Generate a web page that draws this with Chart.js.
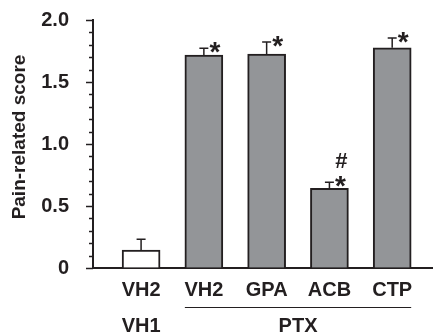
<!DOCTYPE html>
<html>
<head>
<meta charset="utf-8">
<script src="https://cdn.jsdelivr.net/npm/chart.js@4.4.1/dist/chart.umd.min.js"></script>
<style>
  html, body { margin: 0; padding: 0; background: #fff; }
  #wrap { width: 433px; height: 333px; position: relative; }
</style>
</head>
<body>
<div id="wrap"><canvas id="chart"></canvas></div>
<script>
// data
const categories = ['VH2', 'VH2', 'GPA', 'ACB', 'CTP'];
const scores = [0.145, 1.718, 1.726, 0.643, 1.776];
const errors = [0.086, 0.054, 0.097, 0.048, 0.078];
const stars = ['', '*', '*', '*', '*'];
const hashes = ['', '', '', '#', ''];
const groups = ['VH1', 'PTX'];
const groupFrom = [1, 2];
const groupTo = [1, 5];

const ink = '#231f20';
const font = 'Liberation Sans, Arial, Helvetica, sans-serif';
const barWidth = 38;

const positions = categories.map((c, i) => i + 1);

// error bars, significance marks, group labels, y title
const extras = {
    id: 'extras',
    afterDatasetsDraw(chart) {
        const ctx = chart.ctx;
        const x = chart.scales.x, y = chart.scales.y;
        ctx.save();
        ctx.strokeStyle = ink;
        ctx.fillStyle = ink;
        ctx.lineWidth = 1.5;
        scores.forEach((v, i) => {
            const cx = x.getPixelForValue(positions[i]);
            const top = y.getPixelForValue(v);
            const end = y.getPixelForValue(v + errors[i]);
            ctx.beginPath();
            ctx.moveTo(cx, top);
            ctx.lineTo(cx, end);
            ctx.moveTo(cx - 4.5, end);
            ctx.lineTo(cx + 4.5, end);
            ctx.stroke();

            ctx.textAlign = 'center';
            ctx.textBaseline = 'alphabetic';
            if (stars[i]) {
                ctx.font = 'bold 28px ' + font;
                ctx.fillText(stars[i], cx + 11, end + 13);
            }
            if (hashes[i]) {
                ctx.font = 'bold 22px ' + font;
                ctx.fillText(hashes[i], cx + 12, end - 14);
            }
        });

        // second row of labels
        ctx.font = 'bold 20px ' + font;
        ctx.textAlign = 'center';
        ctx.textBaseline = 'middle';
        ctx.lineWidth = 1;
        groups.forEach((g, i) => {
            const a = x.getPixelForValue(groupFrom[i]);
            const b = x.getPixelForValue(groupTo[i]);
            ctx.fillText(g, (a + b) / 2, 326);
            if (groupTo[i] > groupFrom[i]) {
                ctx.beginPath();
                ctx.moveTo(a - barWidth / 2, 307.5);
                ctx.lineTo(b + barWidth / 2, 307.5);
                ctx.stroke();
            }
        });

        // y title
        ctx.translate(20, 137);
        ctx.rotate(-Math.PI / 2);
        ctx.font = 'bold 19px ' + font;
        ctx.fillText('Pain-related score', 0, 0);
        ctx.restore();
    }
};

// short minor ticks and longer major ticks on the y axis
const yTicks = {
    id: 'yTicks',
    afterDraw(chart) {
        const ctx = chart.ctx;
        const y = chart.scales.y;
        const left = chart.chartArea.left;
        ctx.save();
        ctx.strokeStyle = ink;
        ctx.lineWidth = 1.5;
        y.ticks.forEach(t => {
            const major = Math.abs(t.value * 2 - Math.round(t.value * 2)) < 1e-6;
            const py = Math.round(y.getPixelForValue(t.value)) + 0.5;
            ctx.beginPath();
            ctx.moveTo(left - (major ? 7 : 4), py);
            ctx.lineTo(left, py);
            ctx.stroke();
        });
        ctx.restore();
    }
};

new Chart(document.getElementById('chart'), {
    type: 'bar',
    data: {
        datasets: [{
            data: scores.map((v, i) => ({ x: positions[i], y: v })),
            backgroundColor: scores.map((v, i) => i === 0 ? '#ffffff' : '#939598'),
            borderColor: ink,
            borderWidth: 2,
            borderSkipped: 'bottom',
            barThickness: barWidth
        }]
    },
    options: {
        responsive: true,
        maintainAspectRatio: false,
        animation: false,
        layout: { padding: { top: 20, left: 0, right: 0, bottom: 0 } },
        plugins: { legend: { display: false }, tooltip: { enabled: false } },
        scales: {
            x: {
                type: 'linear',
                offset: false,
                min: 0.234,
                max: 5.65,
                afterBuildTicks: s => { s.ticks = positions.map(p => ({ value: p })); },
                afterFit: s => { s.height = 65; },
                grid: { drawOnChartArea: false, drawTicks: false, offset: false },
                border: { display: true, color: ink, width: 2 },
                ticks: {
                    autoSkip: false,
                    maxRotation: 0,
                    padding: 10,
                    color: ink,
                    font: { family: font, size: 20, weight: 'bold' },
                    callback: v => categories[v - 1]
                }
            },
            y: {
                min: 0,
                max: 2,
                afterFit: s => { s.width = 93; s.paddingTop = 0; s.paddingBottom = 0; },
                grid: { drawOnChartArea: false, drawTicks: false },
                border: { display: true, color: ink, width: 2 },
                ticks: {
                    stepSize: 0.1,
                    autoSkip: false,
                    padding: 24,
                    color: ink,
                    font: { family: font, size: 20, weight: 'bold' },
                    callback: v => {
                        if (Math.abs(v * 2 - Math.round(v * 2)) > 1e-6) return '';
                        return v === 0 ? '0' : v.toFixed(1);
                    }
                }
            }
        }
    },
    plugins: [extras, yTicks]
});
</script>
</body>
</html>
